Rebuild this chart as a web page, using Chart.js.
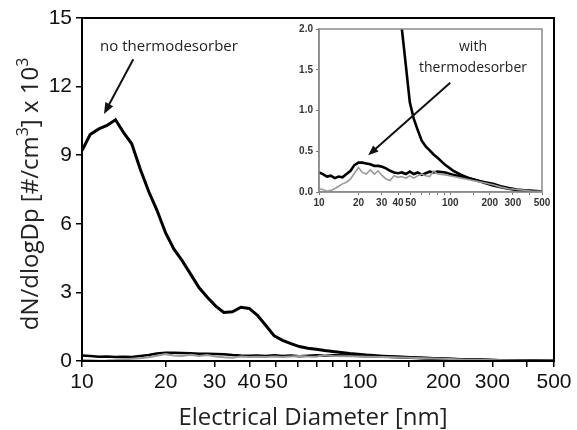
<!DOCTYPE html>
<html>
<head>
<meta charset="utf-8">
<script src="https://cdn.jsdelivr.net/npm/chart.js@4.4.1/dist/chart.umd.min.js"></script>
<style>
body { margin: 0; background: #fff; }
#wrap { position: relative; width: 577px; height: 430px; }
#main { position: absolute; left: 0; top: 0; }
#inset { position: absolute; left: 285px; top: 20px; }
</style>
</head>
<body>
<div id="wrap">
  <canvas id="main" width="577" height="430"></canvas>
  <canvas id="inset" width="270" height="195"></canvas>
</div>
<script>
// electrical diameter [nm]
var diameters = [10, 10.7, 11.5, 12.3, 13.2, 14.1, 15.1, 16.2, 17.4, 18.6, 20, 21.4, 22.9, 24.6, 26.4, 28.2,
    30.3, 32.4, 34.8, 37.3, 40, 42.8, 45.9, 49.2, 52.7, 56.5, 60.6, 65, 69.7, 74.7, 80, 91.9, 105.6,
    121.3, 139.3, 160, 183.8, 211.1, 242.5, 278.6, 320, 367.6, 422.3, 485.1, 500]
// dN/dlogDp [#/cm3] x 10^3
var noTD = [9.2, 9.9, 10.15, 10.3, 10.55, 10.0, 9.5, 8.4, 7.4, 6.6, 5.6, 4.9, 4.4, 3.8, 3.2, 2.8,
    2.4, 2.12, 2.15, 2.35, 2.3, 2.0, 1.55, 1.1, 0.9, 0.76, 0.63, 0.56, 0.51, 0.46, 0.42, 0.33, 0.26,
    0.21, 0.17, 0.14, 0.11, 0.08, 0.06, 0.04, 0.025, 0.015, 0.01, 0.005, 0.005]
var withTD = [0.24, 0.22, 0.19, 0.2, 0.17, 0.19, 0.18, 0.22, 0.26, 0.33, 0.36, 0.36, 0.35, 0.34, 0.32, 0.32,
    0.31, 0.29, 0.26, 0.24, 0.23, 0.24, 0.22, 0.25, 0.22, 0.24, 0.21, 0.23, 0.25, 0.24, 0.25, 0.24, 0.21,
    0.19, 0.17, 0.14, 0.12, 0.1, 0.07, 0.05, 0.03, 0.02, 0.015, 0.01, 0.01]
var withTD2 = [0.04, 0.03, 0.01, 0.02, 0.04, 0.07, 0.1, 0.12, 0.16, 0.23, 0.3, 0.24, 0.22, 0.27, 0.22, 0.26,
    0.2, 0.16, 0.14, 0.2, 0.18, 0.19, 0.17, 0.2, 0.17, 0.2, 0.22, 0.2, 0.19, 0.26, 0.22, 0.21, 0.19,
    0.17, 0.15, 0.13, 0.11, 0.09, 0.06, 0.04, 0.03, 0.02, 0.01, 0.01, 0.01]
var xLabels = [10, 20, 30, 40, 50, 100, 200, 300, 500]
var yTicksMain = [0, 3, 6, 9, 12, 15]

function pts(ys) {
    return diameters.map(function (d, i) { return { x: d, y: ys[i] } })
}

function arrow(ctx, x1, y1, x2, y2, head, w) {
    var a = Math.atan2(y2 - y1, x2 - x1)
    ctx.save()
    ctx.strokeStyle = '#111'
    ctx.fillStyle = '#111'
    ctx.lineWidth = w
    ctx.beginPath()
    ctx.moveTo(x1, y1)
    ctx.lineTo(x2 - Math.cos(a) * head * 0.8, y2 - Math.sin(a) * head * 0.8)
    ctx.stroke()
    ctx.beginPath()
    ctx.moveTo(x2, y2)
    ctx.lineTo(x2 - head * Math.cos(a - 0.38), y2 - head * Math.sin(a - 0.38))
    ctx.lineTo(x2 - head * Math.cos(a + 0.38), y2 - head * Math.sin(a + 0.38))
    ctx.closePath()
    ctx.fill()
    ctx.restore()
}

// text with superscript parts, drawn left to right from x
function supText(ctx, parts, x, y, big, small) {
    var total = 0
    parts.forEach(function (p) {
        ctx.font = (p.sup ? small : big) + 'px "Open Sans"'
        total += ctx.measureText(p.t).width
    })
    var cx = x - total / 2
    parts.forEach(function (p) {
        ctx.font = (p.sup ? small : big) + 'px "Open Sans"'
        ctx.fillText(p.t, cx, p.sup ? y - big * 0.42 : y)
        cx += ctx.measureText(p.t).width
    })
}

function xTick(v) {
    var r = Math.round(v)
    return xLabels.indexOf(r) >= 0 && Math.abs(v - r) < 1e-6 ? String(r) : ''
}

var mainDecor = {
    id: 'mainDecor',
    afterDraw: function (chart) {
        var ctx = chart.ctx, ca = chart.chartArea
        var xs = chart.scales.x, ys = chart.scales.y
        ctx.save()
        ctx.strokeStyle = '#000'
        ctx.lineWidth = 2
        ctx.strokeRect(ca.left, ca.top, ca.right - ca.left, ca.bottom - ca.top)
        ctx.fillStyle = '#222'
        ctx.font = '15px "Open Sans"'
        ctx.textAlign = 'center'
        ctx.textBaseline = 'middle'
        ctx.fillText('no thermodesorber', 169, 47)
        // axis titles
        ctx.textBaseline = 'alphabetic'
        ctx.font = '24px "Open Sans"'
        ctx.fillText('Electrical Diameter [nm]', 313, 425)
        ctx.translate(38, 194)
        ctx.rotate(-Math.PI / 2)
        ctx.textAlign = 'left'
        supText(ctx, [{ t: 'dN/dlogDp [#/cm' }, { t: '3', sup: true }, { t: '] x 10' }, { t: '3', sup: true }],
            0, 0, 24, 16)
        ctx.restore()
        arrow(ctx, xs.getPixelForValue(15.3), ys.getPixelForValue(13.2),
            xs.getPixelForValue(12.0), ys.getPixelForValue(10.8), 12, 2)
    }
}

var insetDecor = {
    id: 'insetDecor',
    afterDraw: function (chart) {
        var ctx = chart.ctx, ca = chart.chartArea
        var xs = chart.scales.x, ys = chart.scales.y
        ctx.save()
        ctx.strokeStyle = '#8a8a8a'
        ctx.lineWidth = 1.5
        ctx.strokeRect(ca.left, ca.top, ca.right - ca.left, ca.bottom - ca.top)
        ctx.fillStyle = '#222'
        ctx.font = '14px "Open Sans"'
        ctx.textAlign = 'center'
        ctx.textBaseline = 'middle'
        ctx.fillText('with', 188, 27)
        ctx.fillText('thermodesorber', 188, 48)
        ctx.restore()
        arrow(ctx, xs.getPixelForValue(100), ys.getPixelForValue(1.34),
            xs.getPixelForValue(23.7), ys.getPixelForValue(0.45), 11, 2)
    }
}

function sets(wBig, wTD, wGray) {
    return [{
        data: pts(withTD2), borderColor: '#9a9a9a', borderWidth: wGray
    }, {
        data: pts(withTD), borderColor: '#000', borderWidth: wTD
    }, {
        data: pts(noTD), borderColor: '#000', borderWidth: wBig
    }]
}

var mainChart = new Chart(document.getElementById('main'), {
    type: 'line',
    data: { datasets: sets(3, 2.5, 2) },
    options: {
        responsive: false,
        animation: false,
        devicePixelRatio: 1,
        layout: { padding: { top: 18, right: 23, left: 0, bottom: 0 } },
        elements: { point: { radius: 0 }, line: { tension: 0 } },
        plugins: { legend: { display: false }, tooltip: { enabled: false } },
        scales: {
            x: {
                type: 'logarithmic', min: 10, max: 500,
                afterFit: function (s) { s.height = 69 },
                grid: { drawOnChartArea: false, color: '#000', lineWidth: 1.5, tickLength: 6 },
                border: { color: '#000', width: 2 },
                ticks: {
                    autoSkip: false, maxRotation: 0, padding: 3, color: '#111',
                    font: { family: '"Liberation Sans", Arial', size: 21 },
                    callback: xTick
                }
            },
            y: {
                min: 0, max: 15,
                afterFit: function (s) { s.width = 82 },
                afterBuildTicks: function (s) { s.ticks = yTicksMain.map(function (v) { return { value: v } }) },
                grid: { drawOnChartArea: false, color: '#000', lineWidth: 1.5, tickLength: 6 },
                border: { color: '#000', width: 2 },
                ticks: {
                    padding: 4, color: '#111',
                    font: { family: '"Liberation Sans", Arial', size: 21 }
                }
            }
        }
    },
    plugins: [mainDecor]
})

var insetChart = new Chart(document.getElementById('inset'), {
    type: 'line',
    data: { datasets: sets(2.6, 2.6, 1.6) },
    options: {
        responsive: false,
        animation: false,
        devicePixelRatio: 1,
        layout: { padding: { top: 9, right: 13, left: 0, bottom: 0 } },
        elements: { point: { radius: 0 }, line: { tension: 0 } },
        plugins: { legend: { display: false }, tooltip: { enabled: false } },
        scales: {
            x: {
                type: 'logarithmic', min: 10, max: 500,
                afterFit: function (s) { s.height = 23 },
                grid: { drawOnChartArea: false, color: '#777', lineWidth: 1, tickLength: 3 },
                border: { color: '#8a8a8a', width: 1.5 },
                ticks: {
                    autoSkip: false, maxRotation: 0, padding: 2, color: '#333',
                    font: { family: '"Liberation Sans", Arial', size: 10, weight: 'bold' },
                    callback: xTick
                }
            },
            y: {
                min: 0, max: 2,
                afterFit: function (s) { s.width = 34 },
                grid: { drawOnChartArea: false, color: '#777', lineWidth: 1, tickLength: 3 },
                border: { color: '#8a8a8a', width: 1.5 },
                ticks: {
                    stepSize: 0.5, padding: 3, color: '#333',
                    font: { family: '"Liberation Sans", Arial', size: 10, weight: 'bold' },
                    callback: function (v) { return v.toFixed(1) }
                }
            }
        }
    },
    plugins: [insetDecor]
})
</script>
</body>
</html>
